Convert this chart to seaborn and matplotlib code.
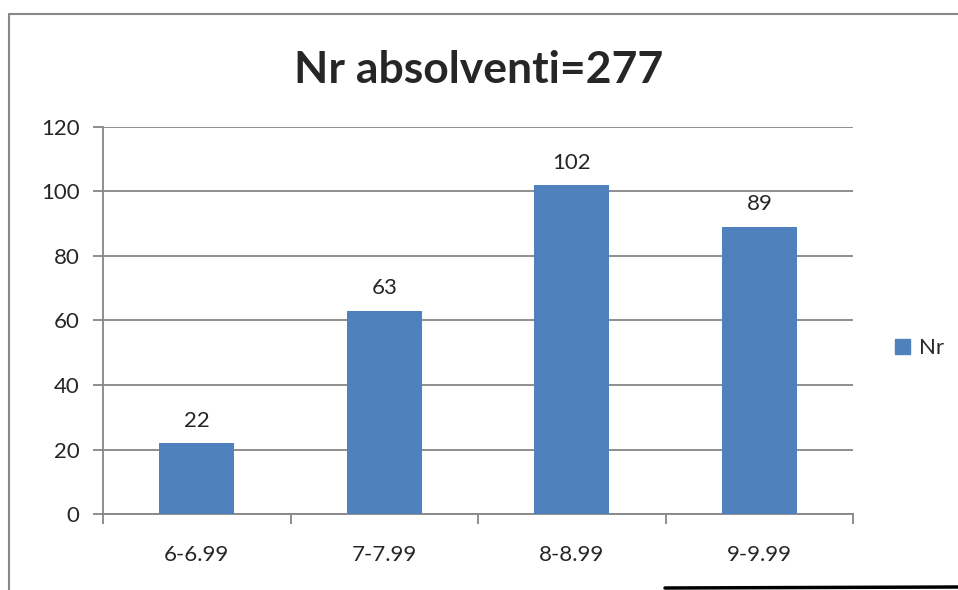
import numpy as np
import pandas as pd
import matplotlib
matplotlib.use('Agg')
import matplotlib.pyplot as plt
from matplotlib.patches import Patch
from matplotlib.lines import Line2D
import seaborn as sns

categories = ['6-6.99', '7-7.99', '8-8.99', '9-9.99']
values = [22, 63, 102, 89]
series_name = 'Nr'
title = 'Nr absolventi=277'

bar_color = '#4F81BD'
grid_color = '#868686'

sns.set_style('white')
plt.rcParams['font.family'] = ['Lato', 'DejaVu Sans']

df = pd.DataFrame({'cat': categories, 'val': values})

fig = plt.figure(figsize=(9.58, 5.9), dpi=100)
ax = fig.add_axes([0.1075, 0.1288, 0.783, 0.656])

sns.barplot(data=df, x='cat', y='val', color=bar_color, width=0.4,
            saturation=1, linewidth=0, ax=ax, zorder=3)

ax.set_ylim(0, 120)
ax.set_xlim(-0.5, len(categories) - 0.5)
ax.set_yticks(np.arange(0, 121, 20))
ax.yaxis.grid(True, color=grid_color, linewidth=1.3, zorder=0)
ax.set_axisbelow(True)

# x ticks at category boundaries, labels at centers
ax.set_xticks(np.arange(-0.5, len(categories), 1.0))
ax.set_xticklabels([])
ax.set_xticks(np.arange(len(categories)), minor=True)
ax.set_xticklabels(categories, minor=True)
ax.tick_params(axis='x', which='major', direction='out', length=7, width=1.3,
               color=grid_color, bottom=True)
ax.tick_params(axis='x', which='minor', length=0, pad=22, labelsize=16)
ax.tick_params(axis='y', direction='out', length=7, width=1.3,
               color=grid_color, left=True, labelsize=16, pad=10)

for side in ['top', 'right']:
    ax.spines[side].set_visible(False)
for side in ['left', 'bottom']:
    ax.spines[side].set_color(grid_color)
    ax.spines[side].set_linewidth(1.3)

ax.set_xlabel('')
ax.set_ylabel('')

ax.bar_label(ax.containers[0], padding=9, fontsize=16)

fig.text(0.5, 0.882, title, ha='center', va='center', fontsize=32,
         fontweight='bold')

handle = Patch(facecolor=bar_color, edgecolor=bar_color)
fig.legend([handle], [series_name], loc='center left',
           bbox_to_anchor=(0.913, 0.41), frameon=False, fontsize=16,
           handlelength=0.7, handleheight=0.7, handletextpad=0.4)

# chart area border
fig.add_artist(Line2D([8.5 / 958, 8.5 / 958], [0, 1 - 14 / 590],
                      color='#888888', linewidth=1.5))
fig.add_artist(Line2D([8.5 / 958, 1], [1 - 14 / 590, 1 - 14 / 590],
                      color='#888888', linewidth=1.5))
fig.add_artist(Line2D([665 / 958, 1], [2 / 590, 3 / 590],
                      color='black', linewidth=2.5))

fig.savefig('out.png', dpi=100)
